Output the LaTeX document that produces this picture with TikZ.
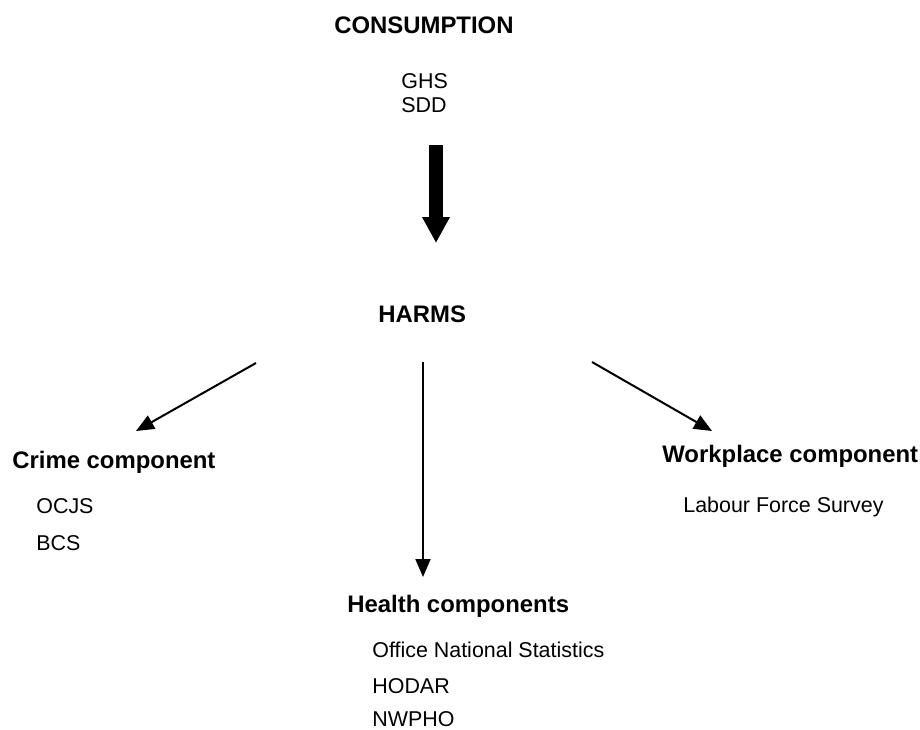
\documentclass[tikz,border=0pt]{standalone}
\usepackage{fontspec}
\setmainfont{Liberation Sans}
\usepackage{tikz}
\usetikzlibrary{positioning,calc,arrows.meta}

\tikzset{
  head/.style={anchor=base west, inner sep=0pt, font=\fontsize{13.6}{16}\selectfont\bfseries},
  src/.style={anchor=base west, inner sep=0pt, font=\fontsize{12.2}{14}\selectfont},
  link/.style={line width=0.04cm, -{Triangle[length=0.36cm,width=0.3cm]}},
  bigarrow/.style={line width=0.28cm, -{Triangle[length=0.52cm,width=0.52cm]}}
}

\begin{document}
\begin{tikzpicture}[x=0.02cm, y=-0.02cm]
	\useasboundingbox (0,0) rectangle (920,730);
	% consumption
	\node[head] (cons) at (334,33) {CONSUMPTION};
	\node[src] (ghs) at (401,88) {GHS};
	\node[src] (sdd) at (401,112) {SDD};
	% harms
	\node[head] (harms) at (378,322) {HARMS};
	% components
	\node[head] (crime) at (12,468) {Crime component};
	\node[src] (ocjs) at (36,513) {OCJS};
	\node[src] (bcs) at (36,550) {BCS};
	\node[head] (health) at (347,612) {Health components};
	\node[src] (ons) at (372,657) {Office National Statistics};
	\node[src] (hodar) at (372,693) {HODAR};
	\node[src] (nwpho) at (372,726) {NWPHO};
	\node[head] (work) at (662,462) {Workplace component};
	\node[src] (lfs) at (683,512) {Labour Force Survey};
	% arrow ends
	\coordinate (c1) at (436,145);
	\coordinate (c2) at (436,243);
	\coordinate (h1) at (256,363);
	\coordinate (h2) at (423,362);
	\coordinate (h3) at (592,362);
	\coordinate (k1) at (136,431);
	\coordinate (k2) at (423,577);
	\coordinate (k3) at (712,431);
	\draw[bigarrow] (c1) -- (c2);
	\draw[link] (h1) -- (k1);
	\draw[link] (h2) -- (k2);
	\draw[link] (h3) -- (k3);
\end{tikzpicture}
\end{document}
